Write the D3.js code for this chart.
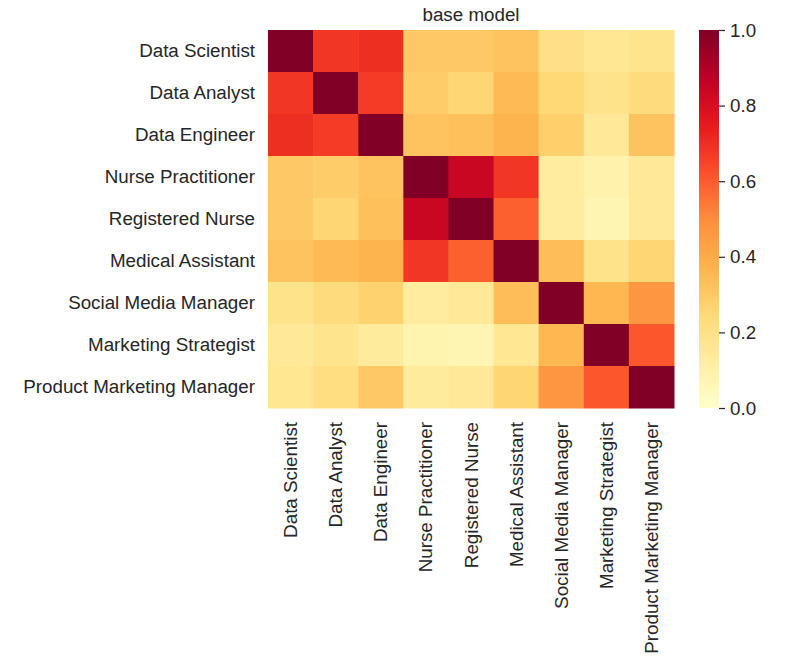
<!DOCTYPE html>
<html><head><meta charset="utf-8">
<script src="https://cdn.jsdelivr.net/npm/d3@7"></script>
<style>body{margin:0;background:#fff;} text{font-family:"Liberation Sans",Arial,sans-serif;fill:#262626;}</style>
</head><body><svg id="c" width="792" height="671"></svg>
<script>
const categories = ["Data Scientist","Data Analyst","Data Engineer","Nurse Practitioner","Registered Nurse","Medical Assistant","Social Media Manager","Marketing Strategist","Product Marketing Manager"];
const rowDS  = [1.00,0.68,0.70,0.30,0.30,0.32,0.20,0.16,0.18];
const rowDA  = [0.68,1.00,0.67,0.29,0.26,0.35,0.25,0.19,0.23];
const rowDE  = [0.70,0.67,1.00,0.32,0.33,0.37,0.28,0.15,0.32];
const rowNP  = [0.30,0.29,0.32,1.00,0.84,0.68,0.13,0.09,0.15];
const rowRN  = [0.30,0.26,0.33,0.84,1.00,0.59,0.13,0.07,0.15];
const rowMA  = [0.32,0.35,0.37,0.68,0.59,1.00,0.34,0.19,0.26];
const rowSMM = [0.19,0.23,0.27,0.13,0.15,0.34,1.00,0.36,0.47];
const rowMS  = [0.15,0.18,0.14,0.08,0.07,0.16,0.36,1.00,0.61];
const rowPMM = [0.17,0.22,0.30,0.14,0.15,0.26,0.47,0.61,1.00];
const matrix = [rowDS,rowDA,rowDE,rowNP,rowRN,rowMA,rowSMM,rowMS,rowPMM];
const colorTicks = [0.0,0.2,0.4,0.6,0.8,1.0];
const title = "base model";

const svg = d3.select("#c");
const L=268,R=674,T=30,B=408;
const x = d3.scaleBand().domain(categories).range([L,R]);
const y = d3.scaleBand().domain(categories).range([T,B]);
const ylorrd = ["#ffffcc","#ffeda0","#fed976","#feb24c","#fd8d3c","#fc4e2a","#e31a1c","#bd0026","#800026"];
const color = d3.scaleLinear().domain(d3.range(9).map(i=>i/8)).range(ylorrd).interpolate(d3.interpolateRgb).clamp(true);

const cells = [];
matrix.forEach((row,i)=>row.forEach((v,j)=>cells.push({r:categories[i],c:categories[j],v})));
svg.append("g").selectAll("rect").data(cells).join("rect")
  .attr("x",d=>x(d.c)).attr("y",d=>y(d.r))
  .attr("width",x.bandwidth()+0.5).attr("height",y.bandwidth()+0.5)
  .attr("fill",d=>color(d.v));

const fs = "18.8px";
const ya = svg.append("g").attr("transform",`translate(${L},0)`).call(d3.axisLeft(y).tickSize(0).tickPadding(13));
ya.select(".domain").remove();
ya.selectAll("text").style("font-size",fs).attr("fill","#262626");

const xa = svg.append("g").attr("transform",`translate(0,${B})`).call(d3.axisBottom(x).tickSize(0));
xa.select(".domain").remove();
xa.selectAll("text").style("font-size",fs).attr("fill","#262626")
  .attr("text-anchor","end").attr("dy","0.35em")
  .attr("transform","translate(0,14) rotate(-90)").attr("x",0).attr("y",0);

svg.append("text").attr("x",(L+R)/2).attr("y",21).attr("text-anchor","middle").style("font-size",fs).text(title);

// colorbar
const cbL=699,cbW=20;
const cy = d3.scaleLinear().domain([0,1]).range([B,T]);
const defs = svg.append("defs");
const grad = defs.append("linearGradient").attr("id","cb").attr("x1",0).attr("y1",1).attr("x2",0).attr("y2",0);
d3.range(0,1.0001,0.02).forEach(t=>grad.append("stop").attr("offset",t).attr("stop-color",color(t)));
svg.append("rect").attr("x",cbL).attr("y",T).attr("width",cbW).attr("height",B-T).attr("fill","url(#cb)");
const ca = svg.append("g").attr("transform",`translate(${cbL+cbW},0)`)
  .call(d3.axisRight(cy).tickValues(colorTicks).tickFormat(d3.format(".1f")).tickSize(6).tickPadding(5));
ca.select(".domain").remove();
ca.selectAll("line").attr("stroke","#262626").attr("stroke-width",1.2);
ca.selectAll("text").style("font-size",fs).attr("fill","#262626");
</script></body></html>
